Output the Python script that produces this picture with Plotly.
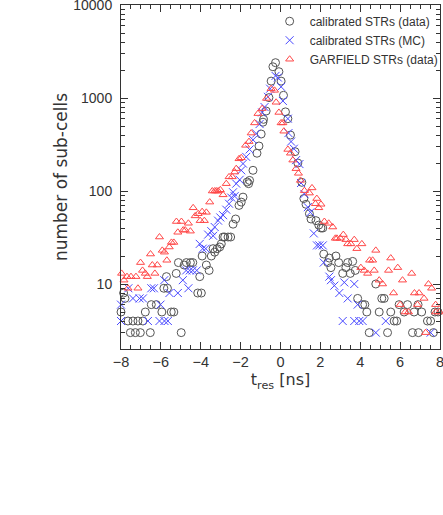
import plotly.graph_objects as go

# ---- data ----
x_data = [-8.0,-7.87,-7.8,-7.65,-7.53,-7.4,-7.28,-7.15,-7.03,-6.9,
          -6.78,-6.53,-6.48,-6.32,-6.23,-5.95,-5.85,-5.72,-5.67,-5.48,
          -5.35,-5.23,-5.12,-4.98,-4.83,-4.72,-4.52,-4.4,-4.15,-4.05,
          -3.97,-3.93,-3.72,-3.58,-3.47,-3.38,-3.3,-3.18,-3.05,-2.97,
          -2.88,-2.8,-2.63,-2.5,-2.38,-2.25,-2.08,-1.97,-1.88,-1.67,
          -1.6,-1.55,-1.38,-1.18,-1.08,-0.97,-0.88,-0.85,-0.72,-0.58,
          -0.47,-0.38,-0.25,-0.08,0.03,0.15,0.25,0.37,0.5,0.73,
          0.87,1.07,1.17,1.28,1.45,1.53,1.78,1.92,2.03,2.12,
          2.17,2.37,2.45,2.53,2.78,2.92,3.12,3.28,3.37,3.5,
          3.62,3.75,3.87,4.12,4.23,4.33,4.45,4.78,4.95,5.08,
          5.2,5.33,5.37,5.53,5.7,5.83,5.95,6.2,6.3,6.37,
          6.45,6.62,6.7,6.9,6.92,7.08,7.37,7.53,7.67,7.75,
          7.9,7.97]
y_data = [5,8,7,4,3,4,3,4,3,4,
          5,3,6,2,6,5,9,12,9,5,
          5,13,17,3,16,17,17,17,8,12,
          8,20,16,14,20,24,22,24,25,27,
          32,32,32,32,44,50,70,76,86,125,
          120,130,167,255,305,410,550,590,725,1010,
          1520,2170,2400,1920,1520,1070,710,600,400,265,
          200,124,83,72,57,50,48,43,40,40,
          21,17,19,15,20,17,13,15,17,13,
          17.5,14,7,6,6,5,3,10,5,7,
          7,2,3,5,4,4,6,5,2,6,
          2,3,5,6,3,5,4,4,3,5,
          5,2]

x_mc = [-8.0,-8.0,-7.78,-7.63,-7.4,-7.07,-6.9,-6.82,-6.65,-6.48,
        -6.35,-6.07,-6.02,-5.83,-5.82,-5.65,-5.57,-5.15,-4.9,-4.73,
        -4.62,-4.55,-4.4,-4.2,-4.05,-3.9,-3.75,-3.63,-3.47,-3.38,
        -3.3,-3.13,-3.02,-2.88,-2.72,-2.58,-2.47,-2.38,-2.3,-2.22,
        -2.05,-1.97,-1.88,-1.72,-1.55,-1.38,-1.22,-1.05,-0.92,-0.8,
        -0.63,-0.52,-0.25,-0.13,0.03,0.12,0.37,0.4,0.53,0.67,
        0.78,0.95,1.03,1.2,1.37,1.5,1.67,1.83,1.95,2.12,
        2.17,2.45,2.53,2.7,2.95,3.12,3.2,3.37,3.48,3.7,
        3.7,3.87,3.95,4.12,4.2,4.37,4.78,4.95,5.28,5.45,
        6.2,6.3,7.42,7.53,7.53]
y_mc = [6,4,2,9,7,7,7,2,4,9,
        9,4,6,11,4,4,8,8,11,14,
        9,14,14,14,27,24,24,34,37,33,
        41,48,52,55,63,73,85,97,88,120,
        132,167,197,233,280,355,415,525,700,800,
        1030,1260,1730,1660,1320,930,600,420,340,285,
        215,195,122,93,67,59,35,26,26,26,
        17,12,11,9.6,8,4,10.4,7,2,10,
        4,6,4,4,2,2,3,2,4,2,
        2,2,2,2,3]

x_garf = [-7.97,-7.85,-7.7,-7.65,-7.5,-7.25,-7.15,-7.02,-6.92,-6.78,
          -6.68,-6.52,-6.43,-6.3,-6.18,-6.07,-5.93,-5.82,-5.7,-5.58,
          -5.47,-5.35,-5.22,-5.15,-4.97,-4.88,-4.78,-4.62,-4.52,-4.38,
          -4.28,-4.13,-4.03,-3.93,-3.82,-3.72,-3.55,-3.42,-3.3,-3.22,
          -3.13,-3.02,-2.88,-2.72,-2.58,-2.42,-2.3,-2.22,-2.08,-1.97,
          -1.75,-1.58,-1.47,-1.3,-1.13,-0.92,-0.7,-0.47,-0.3,-0.22,
          -0.08,0.03,0.12,0.17,0.37,0.5,0.62,0.78,0.9,1.0,
          1.2,1.45,1.58,1.75,1.82,1.92,2.03,2.2,2.42,2.62,
          2.75,2.83,3.0,3.15,3.28,3.37,3.53,3.7,3.83,4.03,
          4.08,4.2,4.37,4.47,4.62,4.7,4.78,4.95,5.12,5.42,
          5.53,5.67,5.88,6.0,6.12,6.25,6.42,6.58,6.72,6.87,
          6.95,7.12,7.2,7.28,7.42,7.58,7.78,7.78,7.97]
y_garf = [13,11,12,9,12,12,9,17,14,13,
          12,21,16,13,16,32,23,22,18,25,
          28,28,47,36,47,38,38,45,37,66,
          54,57,48,60,48,59,76,100,100,100,
          100,103,91,120,142,142,160,174,222,228,
          310,340,420,540,680,770,990,1260,1210,900,
          700,540,540,440,280,255,215,174,155,130,
          101,95,108,73,83,66,72,47,45,41,
          31,31,31,34,30,27,27,30,24,15,
          27,14,13,18,18,14,23,11,10,14,
          19,8,15,6,11,5,5,13,8,6,
          8,2,7,3,10,9,6,5,5]

series_names = ["calibrated STRs (data)", "calibrated STRs (MC)", "GARFIELD STRs (data)"]
y_tickvals = [10, 100, 1000, 10000]
y_ticktext = ["10", "100", "1000", "10000"]
x_tickvals = [-8, -6, -4, -2, 0, 2, 4, 6, 8]

FONT = "Liberation Sans"
TITLE_FONT = "DejaVu Sans"
INK = "#333333"

fig = go.Figure()
fig.add_trace(go.Scatter(
    x=x_data, y=y_data, mode="markers", name=series_names[0], cliponaxis=False,
    marker=dict(symbol="circle-open", size=8, color="#555555", line=dict(width=1, color="#555555"))))
fig.add_trace(go.Scatter(
    x=x_mc, y=y_mc, mode="markers", name=series_names[1], cliponaxis=False,
    marker=dict(symbol="x-thin-open", size=8, color="#4848ff", line=dict(width=1, color="#4848ff"))))
fig.add_trace(go.Scatter(
    x=x_garf, y=y_garf, mode="markers", name=series_names[2], cliponaxis=False,
    marker=dict(symbol="triangle-up-open", size=7, color="#ff4848", line=dict(width=1, color="#ff4848"))))

minor_y = [m * 10 ** e for e in range(0, 4) for m in range(2, 10)]

fig.update_layout(
    width=443, height=515,
    margin=dict(l=121, r=3, t=5, b=166, autoexpand=False),
    paper_bgcolor="white", plot_bgcolor="white",
    font=dict(family=FONT, size=14, color=INK),
    showlegend=True,
    legend=dict(x=0.466, y=0.995, xanchor="left", yanchor="top",
                bgcolor="rgba(0,0,0,0)", font=dict(family=FONT, size=12, color=INK),
                itemwidth=30, tracegroupgap=0),
    xaxis=dict(range=[-8, 8], showgrid=False, zeroline=False, automargin=False,
               showline=True, linecolor=INK, linewidth=1, mirror="ticks",
               ticks="inside", ticklen=7, tickcolor=INK, ticklabeloverflow="allow",
               tickvals=x_tickvals, tickfont=dict(size=14.5),
               minor=dict(dtick=0.5, ticks="inside", ticklen=4, tickcolor=INK, showgrid=False),
               title=dict(text="t<sub>res</sub> [ns]", font=dict(family=TITLE_FONT, size=16), standoff=2)),
    yaxis=dict(type="log", range=[0.30103, 4.0005], showgrid=False, zeroline=False, automargin=False,
               showline=True, linecolor=INK, linewidth=1, mirror="ticks",
               ticks="inside", ticklen=7, tickcolor=INK, ticklabeloverflow="allow",
               ticklabelstandoff=5,
               tickvals=y_tickvals, ticktext=y_ticktext, tickfont=dict(size=14),
               minor=dict(tickvals=minor_y, ticks="inside", ticklen=4, tickcolor=INK, showgrid=False),
               title=dict(text="number of sub-cells", font=dict(family=TITLE_FONT, size=17), standoff=1)),
)

fig.write_html("out.html", config={"displayModeBar": False},
               post_script="document.body.style.margin='0';")
